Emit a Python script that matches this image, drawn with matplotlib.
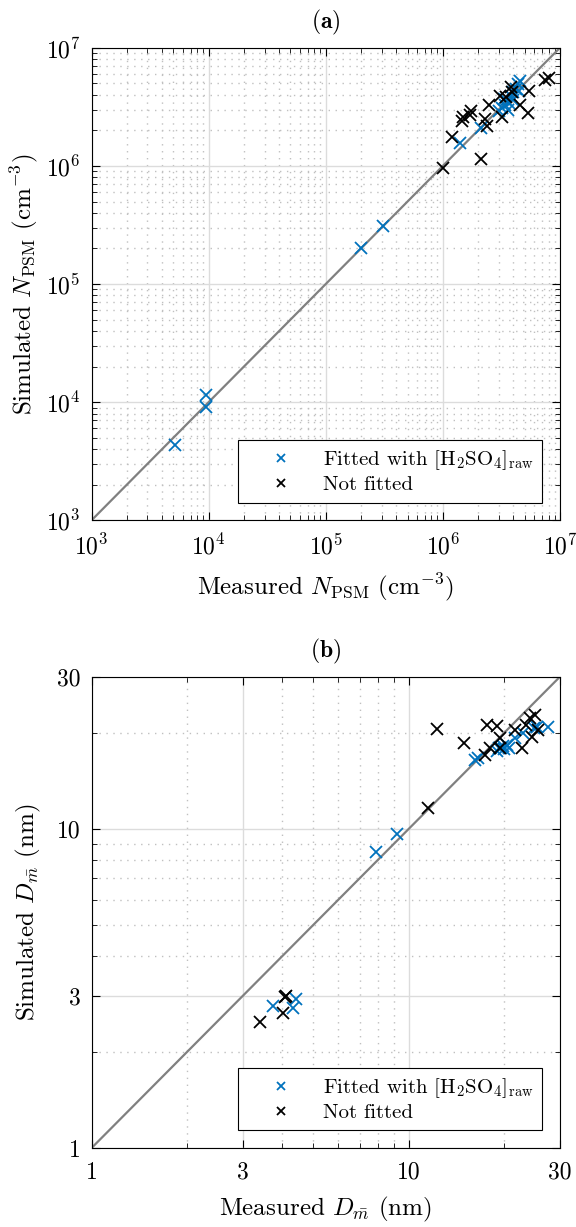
import numpy as np
import matplotlib
matplotlib.use("Agg")
from matplotlib import pyplot as plt
from matplotlib.ticker import FixedLocator, NullFormatter, LogLocator

plt.rcParams['font.family'] = ['cmr10']
plt.rcParams['mathtext.fontset'] = 'cm'
plt.rcParams['axes.formatter.use_mathtext'] = True

# (a) N_PSM, fitted with [H2SO4]raw
na_fit_meas = [5.2e3, 9.4e3, 9.4e3, 2.0e5, 3.1e5, 1.4e6, 2.1e6,
               3.0e6, 3.2e6, 3.4e6, 3.5e6, 3.7e6, 3.8e6, 4.0e6, 4.2e6,
               4.4e6, 4.6e6, 3.6e6, 4.0e6, 3.3e6, 4.5e6]
na_fit_sim = [4.3e3, 1.15e4, 9.1e3, 2.0e5, 3.1e5, 1.55e6, 2.1e6,
              2.9e6, 3.1e6, 3.3e6, 3.6e6, 3.4e6, 3.9e6, 4.2e6, 4.5e6,
              4.9e6, 5.2e6, 3.0e6, 3.6e6, 3.7e6, 4.3e6]
# (a) not fitted
na_not_meas = [1.0e6, 1.2e6, 2.1e6, 1.45e6, 1.5e6, 1.7e6, 1.75e6, 2.5e6,
               2.3e6, 2.4e6, 3.2e6, 3.1e6, 3.8e6, 4.6e6, 5.3e6, 5.5e6,
               7.5e6, 8.1e6, 3.5e6, 3.9e6]
na_not_sim = [0.97e6, 1.75e6, 1.15e6, 2.4e6, 2.6e6, 2.7e6, 2.9e6, 3.3e6,
              2.5e6, 2.2e6, 2.6e6, 3.9e6, 4.7e6, 3.3e6, 2.8e6, 4.3e6,
              5.3e6, 5.6e6, 3.8e6, 4.2e6]

# (b) D_mbar, fitted
db_fit_meas = [3.74, 4.33, 4.42, 7.9, 9.2, 16.2, 16.6, 19.0, 19.5, 20.0,
               20.5, 19.8, 20.8, 19.3, 21.7, 22.9, 24.8, 25.4, 27.6]
db_fit_sim = [2.79, 2.74, 2.93, 8.47, 9.65, 16.5, 16.7, 17.6, 18.0, 17.8,
              18.3, 18.2, 18.0, 17.9, 19.3, 20.0, 20.7, 20.9, 20.9]
# (b) not fitted
db_not_meas = [3.4, 4.02, 4.08, 4.1, 11.5, 12.3, 14.9, 17.7, 19.0, 17.4,
               18.1, 19.4, 19.4, 21.7, 22.8, 23.4, 24.5, 25.1, 24.2, 25.6]
db_not_sim = [2.48, 2.65, 2.97, 3.0, 11.65, 20.6, 18.6, 21.2, 21.0, 17.1,
              17.9, 19.3, 17.9, 20.4, 17.9, 21.2, 19.4, 22.8, 22.3, 20.4]

blue = '#0072BD'
fs_tick = 17
fs_lab = 18
fs_leg = 15

fig = plt.figure(figsize=(5.76, 12.27), dpi=100)
ax1 = fig.add_axes([0.159, 0.576, 0.813, 0.385])
ax2 = fig.add_axes([0.159, 0.0644, 0.813, 0.384])


def style_axes(ax):
    ax.set_xscale('log')
    ax.set_yscale('log')
    ax.grid(True, which='major', color='#dcdcdc', linewidth=1.0, linestyle='-')
    ax.grid(True, which='minor', color='#c0c0c0', linewidth=1.0, linestyle=(0, (1, 4)))
    ax.set_axisbelow(True)
    ax.tick_params(which='both', direction='in', top=True, right=True, labelsize=fs_tick)
    ax.tick_params(which='major', length=6, width=0.8)
    ax.tick_params(which='minor', length=3.5, width=0.6)
    ax.tick_params(axis='x', which='major', pad=10)
    ax.tick_params(axis='y', which='major', pad=8)
    for s in ax.spines.values():
        s.set_linewidth(0.8)


def draw(ax, lo, hi, fm, fsim, nm, nsim):
    ax.plot([lo, hi], [lo, hi], color='#808080', linewidth=1.6, zorder=2)
    ax.plot(fm, fsim, 'x', color=blue, markersize=8, markeredgewidth=1.3,
            label=r'Fitted with [H$_2$SO$_4$]$_{\rm raw}$', zorder=3)
    ax.plot(nm, nsim, 'x', color='k', markersize=8, markeredgewidth=1.3,
            label='Not fitted', zorder=3)
    ax.set_xlim(lo, hi)
    ax.set_ylim(lo, hi)
    leg = ax.legend(loc='lower right', fontsize=fs_leg, fancybox=False, framealpha=1,
                    edgecolor='k', borderaxespad=0.85, handlelength=3.4,
                    handletextpad=0.3, borderpad=0.4, labelspacing=0.15,
                    markerscale=0.8)
    leg.get_frame().set_linewidth(0.8)


style_axes(ax1)
draw(ax1, 1e3, 1e7, na_fit_meas, na_fit_sim, na_not_meas, na_not_sim)
ax1.xaxis.set_major_locator(LogLocator(base=10, numticks=10))
ax1.xaxis.set_minor_locator(LogLocator(base=10, subs=np.arange(2, 10), numticks=20))
ax1.yaxis.set_minor_locator(LogLocator(base=10, subs=np.arange(2, 10), numticks=20))
ax1.set_xlabel(r'Measured $N_{\rm PSM}$ (cm$^{-3}$)', fontsize=fs_lab, labelpad=8)
ax1.set_ylabel(r'Simulated $N_{\rm PSM}$ (cm$^{-3}$)', fontsize=fs_lab, labelpad=4)
ax1.set_title(r'$\mathbf{(a)}$', fontsize=fs_tick, pad=14)

style_axes(ax2)
draw(ax2, 1, 30, db_fit_meas, db_fit_sim, db_not_meas, db_not_sim)
ticks_b = [1, 3, 10, 30]
minor_b = [2, 4, 5, 6, 7, 8, 9, 20]
for axis in (ax2.xaxis, ax2.yaxis):
    axis.set_major_locator(FixedLocator(ticks_b))
    axis.set_minor_locator(FixedLocator(minor_b))
    axis.set_minor_formatter(NullFormatter())
ax2.set_xticklabels([str(t) for t in ticks_b])
ax2.set_yticklabels([str(t) for t in ticks_b])
ax2.set_xlabel(r'Measured $D_{\bar{m}}$ (nm)', fontsize=fs_lab, labelpad=8)
ax2.set_ylabel(r'Simulated $D_{\bar{m}}$ (nm)', fontsize=fs_lab, labelpad=10)
ax2.set_title(r'$\mathbf{(b)}$', fontsize=fs_tick, pad=14)

fig.savefig('out.png', dpi=100)
